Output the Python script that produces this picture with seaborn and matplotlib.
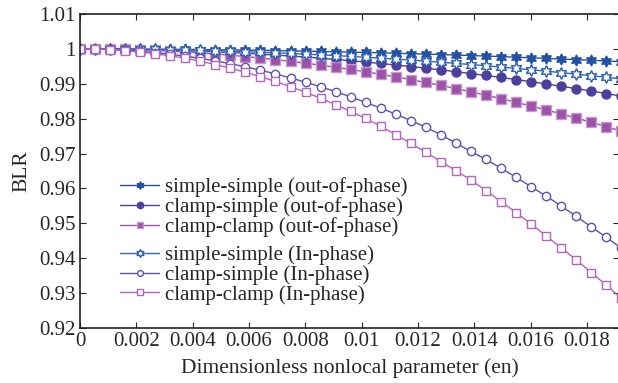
import numpy as np
import pandas as pd
import matplotlib
matplotlib.use("Agg")
import matplotlib.pyplot as plt
import seaborn as sns

en = [i * 0.000534 for i in range(37)]

ss_out = [1.0, 1.0, 0.99999, 0.99997, 0.99995, 0.99993, 0.9999, 0.99986, 0.99982, 0.99977,
          0.99972, 0.99966, 0.99959, 0.99952, 0.99945, 0.99936, 0.99928, 0.99918, 0.99908, 0.99898,
          0.99887, 0.99875, 0.99863, 0.9985, 0.99837, 0.99823, 0.99809, 0.99794, 0.99778, 0.99762,
          0.99745, 0.99728, 0.9971, 0.99692, 0.99673, 0.99653, 0.99633]
cs_out = [1.0, 0.99999, 0.99996, 0.99991, 0.99983, 0.99974, 0.99962, 0.99949, 0.99933, 0.99915,
          0.99896, 0.99874, 0.9985, 0.99823, 0.99795, 0.99765, 0.99733, 0.99698, 0.99662, 0.99623,
          0.99582, 0.99539, 0.99494, 0.99447, 0.99398, 0.99347, 0.99294, 0.99238, 0.99181, 0.99121,
          0.9906, 0.98996, 0.9893, 0.98862, 0.98792, 0.9872, 0.98646]
cc_out = [1.0, 0.99998, 0.99993, 0.99984, 0.99971, 0.99955, 0.99935, 0.99911, 0.99884, 0.99853,
          0.99818, 0.9978, 0.99738, 0.99692, 0.99643, 0.9959, 0.99534, 0.99474, 0.9941, 0.99343,
          0.99272, 0.99197, 0.99119, 0.99037, 0.98951, 0.98862, 0.98769, 0.98673, 0.98573, 0.98469,
          0.98362, 0.98251, 0.98136, 0.98018, 0.97896, 0.9777, 0.97641]
ss_in = [1.0, 0.99999, 0.99997, 0.99994, 0.99989, 0.99983, 0.99976, 0.99967, 0.99957, 0.99946,
         0.99934, 0.9992, 0.99904, 0.99888, 0.9987, 0.9985, 0.9983, 0.99808, 0.99785, 0.9976,
         0.99734, 0.99707, 0.99678, 0.99649, 0.99617, 0.99585, 0.99551, 0.99516, 0.99479, 0.99441,
         0.99402, 0.99361, 0.9932, 0.99276, 0.99232, 0.99186, 0.99139]
cs_in = [1.0, 0.99996, 0.99983, 0.99962, 0.99932, 0.99894, 0.99847, 0.99792, 0.99728, 0.99656,
         0.99576, 0.99486, 0.99389, 0.99283, 0.99168, 0.99045, 0.98913, 0.98773, 0.98625, 0.98468,
         0.98302, 0.98128, 0.97945, 0.97754, 0.9754, 0.9730, 0.9706, 0.9683, 0.9658, 0.9632,
         0.9605, 0.9578, 0.9550, 0.9520, 0.9490, 0.9460, 0.9429]
cc_in = [1.0, 0.99994, 0.99978, 0.9995, 0.99912, 0.99862, 0.99801, 0.99729, 0.99646, 0.99552,
         0.99447, 0.99331, 0.99204, 0.99066, 0.98917, 0.98757, 0.98585, 0.98403, 0.98209, 0.98005,
         0.9778, 0.9754, 0.9729, 0.9704, 0.9677, 0.9651, 0.9624, 0.9594, 0.9562, 0.9531,
         0.9498, 0.9464, 0.9430, 0.9395, 0.9359, 0.9323, 0.9285]

labels = ["simple-simple (out-of-phase)", "clamp-simple (out-of-phase)", "clamp-clamp (out-of-phase)",
          "simple-simple (In-phase)", "clamp-simple (In-phase)", "clamp-clamp (In-phase)"]
x_ticks = [0, 0.002, 0.004, 0.006, 0.008, 0.01, 0.012, 0.014, 0.016, 0.018]
x_tick_labels = ["0", "0.002", "0.004", "0.006", "0.008", "0.01", "0.012", "0.014", "0.016", "0.018"]
y_ticks = [0.92, 0.93, 0.94, 0.95, 0.96, 0.97, 0.98, 0.99, 1.0, 1.01]
y_tick_labels = ["0.92", "0.93", "0.94", "0.95", "0.96", "0.97", "0.98", "0.99", "1", "1.01"]

sns.set_style("ticks")
plt.rcParams['font.family'] = ['Liberation Serif', 'DejaVu Serif']

fig = plt.figure(figsize=(6.18, 3.83), dpi=100)
ax = fig.add_axes([80/618, 1 - 328/383, 1 - 80/618 + 0.002, (328 - 14)/383])

series = [ss_out, cs_out, cc_out, ss_in, cs_in, cc_in]
styles = [
    dict(color="#2350a3", marker=(6, 1, 0), ms=8, mfc="#2350a3", mec="#2350a3"),
    dict(color="#4e3f9c", marker="o", ms=6.5, mfc="#4e3f9c", mec="#4e3f9c"),
    dict(color="#9c52a8", marker="s", ms=6.5, mfc="#9c52a8", mec="#c79acf"),
    dict(color="#3468b5", marker=(6, 1, 0), ms=8.5, mfc="white", mec="#2a5fae"),
    dict(color="#5b52b4", marker="o", ms=6, mfc="white", mec="#5b52b4"),
    dict(color="#b165bd", marker="s", ms=6, mfc="white", mec="#b165bd"),
]
handles = []
for vals, lab, st in zip(series, labels, styles):
    df = pd.DataFrame({"en": en, "BLR": vals})
    sns.lineplot(data=df, x="en", y="BLR", ax=ax, color=st["color"], lw=1.0,
                 marker=st["marker"], markersize=st["ms"], markerfacecolor=st["mfc"],
                 markeredgecolor=st["mec"], markeredgewidth=1.0, label=lab, legend=False,
                 clip_on=True)
    handles.append(ax.lines[-1])

ax.set_xlim(0, 0.01915)
ax.set_ylim(0.92, 1.01)
ax.set_xticks(x_ticks)
ax.set_xticklabels(x_tick_labels)
ax.set_yticks(y_ticks)
ax.set_yticklabels(y_tick_labels)
ax.tick_params(direction="in", top=True, right=True, labelsize=15, length=4, width=0.8, pad=3)
for s in ax.spines.values():
    s.set_visible(True)
    s.set_linewidth(1.2)
    s.set_color("#222222")
ax.set_xlabel("Dimensionless nonlocal parameter (en)", fontsize=15.5, labelpad=5)
ax.set_ylabel("BLR", fontsize=15.5, labelpad=6)

common = dict(loc="upper left", frameon=False, fontsize=15, handlelength=1.9,
              handletextpad=0.25, labelspacing=0.0, borderpad=0, borderaxespad=0,
              markerscale=0.7)
leg1 = ax.legend(handles[:3], labels[:3], bbox_to_anchor=(0.074, 0.48), **common)
ax.add_artist(leg1)
ax.legend(handles[3:], labels[3:], bbox_to_anchor=(0.074, 0.263), **common)

fig.savefig("out.png", dpi=100)
